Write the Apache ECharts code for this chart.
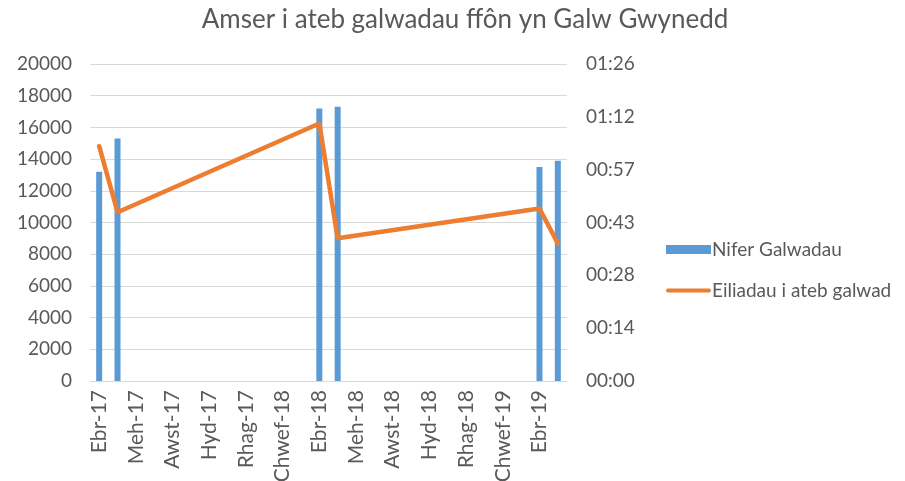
<!DOCTYPE html>
<html>
<head>
<meta charset="utf-8">
<script src="https://cdn.jsdelivr.net/npm/echarts@6/dist/echarts.min.js"></script>
<style>
  html, body { margin: 0; padding: 0; background: #fff; }
  #main { width: 905px; height: 481px; }
</style>
</head>
<body>
<div id="main"></div>
<script>
// misoedd Ebr-17 .. Mai-19
const months = [
  'Ebr-17', 'Mai-17', 'Meh-17', 'Gorff-17', 'Awst-17', 'Medi-17', 'Hyd-17', 'Tach-17',
  'Rhag-17', 'Ion-18', 'Chwef-18', 'Maw-18', 'Ebr-18', 'Mai-18', 'Meh-18', 'Gorff-18',
  'Awst-18', 'Medi-18', 'Hyd-18', 'Tach-18', 'Rhag-18', 'Ion-19', 'Chwef-19', 'Maw-19',
  'Ebr-19', 'Mai-19'
]
const calls = [
  13200, 15300, null, null, null, null, null, null,
  null, null, null, null, 17200, 17300, null, null,
  null, null, null, null, null, null, null, null,
  13500, 13900
]
// eiliadau
const seconds = [
  64, 46, null, null, null, null, null, null,
  null, null, null, null, 70.2, 38.9, null, null,
  null, null, null, null, null, null, null, null,
  47, 37.5
]

const font = 'Lato, "Open Sans", sans-serif'
const grey = '#595959'

// Excel style mm:ss, truncated
const mmss = v => {
  const s = Math.floor(v + 1e-6)
  const m = Math.floor(s / 60)
  const r = s % 60
  return String(m).padStart(2, '0') + ':' + String(r).padStart(2, '0')
}

const chart = echarts.init(document.getElementById('main'))
chart.setOption({
  animation: false,
  textStyle: { fontFamily: font },
  title: {
    text: 'Amser i ateb galwadau ffôn yn Galw Gwynedd',
    left: 460,
    textAlign: 'center',
    top: 2,
    textStyle: { fontFamily: font, fontSize: 26, fontWeight: 'normal', color: grey }
  },
  legend: {
    orient: 'vertical',
    left: 661,
    top: 235,
    itemWidth: 45,
    itemHeight: 9,
    itemGap: 22,
    textStyle: { fontFamily: font, fontSize: 19, color: grey, padding: [0, 0, 0, -4] },
    data: [
      { name: 'Nifer Galwadau', icon: 'rect' },
      { name: 'Eiliadau i ateb galwad', icon: 'path://M2,0 L43,0 A2,2 0 0 1 43,4 L2,4 A2,2 0 0 1 2,0 Z' }
    ]
  },
  grid: { left: 90, right: 338, top: 64, bottom: 100, outerBoundsMode: 'none' },
  xAxis: {
    type: 'category',
    data: months,
    boundaryGap: true,
    axisLine: { lineStyle: { color: '#d9d9d9', width: 1 } },
    axisTick: { interval: 1, length: 5, lineStyle: { color: '#d9d9d9' } },
    axisLabel: { interval: 1, rotate: 90, margin: 9, fontFamily: font, fontSize: 21, color: grey }
  },
  yAxis: [
    {
      type: 'value',
      min: 0,
      max: 20000,
      interval: 2000,
      axisLine: { show: false },
      axisTick: { show: false },
      splitLine: { lineStyle: { color: '#d9d9d9', width: 1 } },
      axisLabel: { margin: 18, fontFamily: font, fontSize: 19, color: grey, formatter: v => String(v) }
    },
    {
      type: 'value',
      min: 0,
      max: 86.4,
      interval: 14.4,
      axisLine: { show: false },
      axisTick: { show: false },
      splitLine: { show: false },
      axisLabel: { margin: 19, fontFamily: font, fontSize: 19, color: grey, formatter: mmss }
    }
  ],
  series: [
    {
      name: 'Nifer Galwadau',
      type: 'bar',
      data: calls,
      barWidth: 6,
      itemStyle: { color: '#5b9bd5' }
    },
    {
      name: 'Eiliadau i ateb galwad',
      type: 'line',
      yAxisIndex: 1,
      data: seconds,
      connectNulls: true,
      symbol: 'none',
      lineStyle: { color: '#ed7d31', width: 4.5, cap: 'round' },
      itemStyle: { color: '#ed7d31' }
    }
  ]
})
</script>
</body>
</html>
